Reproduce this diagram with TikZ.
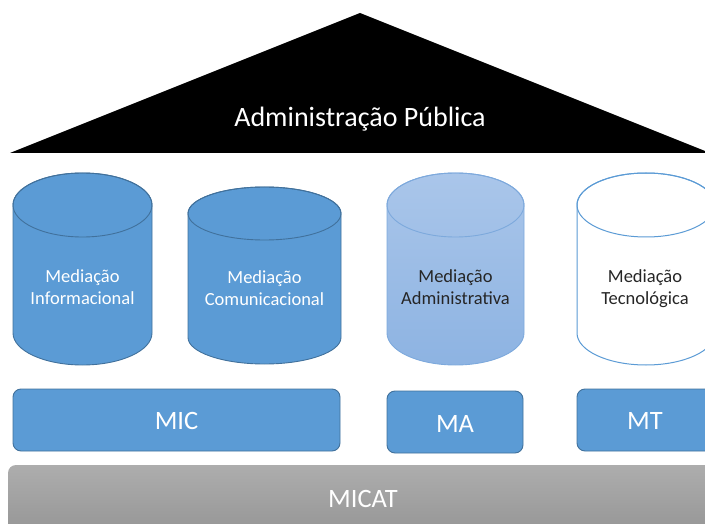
\documentclass[tikz,border=0pt]{standalone}
\usepackage{fontspec}
\setmainfont{Carlito}
\definecolor{mblue}{HTML}{5B9BD5}
\definecolor{mborder}{HTML}{41719C}
\definecolor{lbtop}{HTML}{AAC6EA}
\definecolor{lbbot}{HTML}{8DB3E2}
\definecolor{lbborder}{HTML}{7DA9DC}
\definecolor{gtop}{HTML}{ADADAD}
\definecolor{gbot}{HTML}{929292}
\definecolor{darktext}{HTML}{262626}
\tikzset{
  cyltext/.style={align=center, font=\fontsize{18.5}{22}\selectfont, inner sep=0pt},
  boxtext/.style={font=\fontsize{26.5}{30}\selectfont, text=white, anchor=base, inner sep=0pt},
  bluebox/.style={fill=mblue, draw=mborder, line width=0.9pt, rounded corners=8pt},
}
\begin{document}
\begin{tikzpicture}[x=1pt,y=1pt]
\useasboundingbox (0,0) rectangle (705,-524);
\clip (0,0) rectangle (705,-524);
% roof
\fill[black] (360,-13) -- (10,-153) -- (710,-153) -- cycle;
\node[font=\fontsize{28}{32}\selectfont, text=white, anchor=base, inner sep=0pt] (ap) at (360,-127) {Administração Pública};
% cylinder 1
\path[fill=mblue, draw=mborder, line width=0.9pt] (13,-205) -- (13,-333) arc[start angle=180,end angle=360,x radius=69.5,y radius=32] -- (152,-205) arc[start angle=0,end angle=180,x radius=69.5,y radius=32] -- cycle;
\draw[mborder, line width=0.9pt] (82.5,-205) ellipse[x radius=69.5,y radius=32];
\node[cyltext, text=white] (c1) at (82.5,-287) {Mediação\\Informacional};
% cylinder 2
\path[fill=mblue, draw=mborder, line width=0.9pt] (188,-213.5) -- (188,-337.5) arc[start angle=180,end angle=360,x radius=76.5,y radius=26.5] -- (341,-213.5) arc[start angle=0,end angle=180,x radius=76.5,y radius=26.5] -- cycle;
\draw[mborder, line width=0.9pt] (264.5,-213.5) ellipse[x radius=76.5,y radius=26.5];
\node[cyltext, text=white] (c2) at (264.5,-288) {Mediação\\Comunicacional};
% cylinder 3
\path[top color=lbtop, bottom color=lbbot, draw=lbborder, line width=0.9pt] (387,-205) -- (387,-333) arc[start angle=180,end angle=360,x radius=68.5,y radius=32] -- (524,-205) arc[start angle=0,end angle=180,x radius=68.5,y radius=32] -- cycle;
\draw[lbborder, line width=0.9pt] (455.5,-205) ellipse[x radius=68.5,y radius=32];
\node[cyltext, text=darktext] (c3) at (455.5,-287) {Mediação\\Administrativa};
% cylinder 4
\path[fill=white, draw=mblue, line width=1pt] (577,-205) -- (577,-333) arc[start angle=180,end angle=360,x radius=69,y radius=32] -- (715,-205) arc[start angle=0,end angle=180,x radius=69,y radius=32] -- cycle;
\draw[mblue, line width=1pt] (646,-205) ellipse[x radius=69,y radius=32];
\node[cyltext, text=darktext] (c4) at (645,-289) {Mediação\\Tecnológica};
% boxes
\path[bluebox] (13,-389) rectangle (340,-451);
\node[boxtext] (mic) at (176.5,-429) {MIC};
\path[bluebox] (387,-391) rectangle (523,-453);
\node[boxtext] (ma) at (455,-432) {MA};
\path[bluebox] (577,-389) rectangle (715,-451);
\node[boxtext] (mt) at (645,-429) {MT};
\path[top color=gtop, bottom color=gbot, rounded corners=8pt] (8,-465) rectangle (718,-545);
\node[boxtext] (micat) at (363,-507) {MICAT};
\end{tikzpicture}
\end{document}
